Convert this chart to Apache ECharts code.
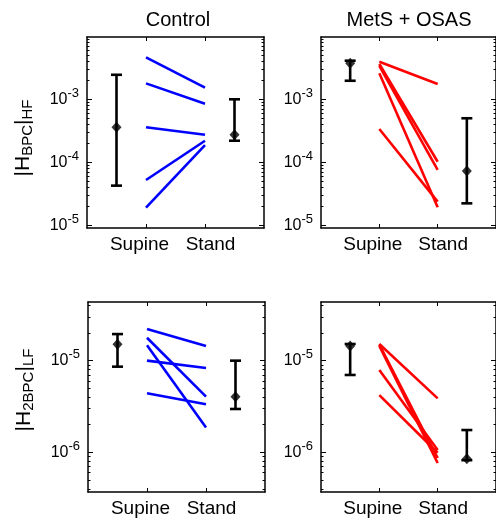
<!DOCTYPE html>
<html><head><meta charset="utf-8">
<script src="https://cdn.jsdelivr.net/npm/echarts@6/dist/echarts.min.js"></script>
<style>html,body{margin:0;padding:0;background:#fff}#c{width:496px;height:523px}</style>
</head><body><div id="c"></div>
<script>
// ---------- data ----------
const panelTitles = ['Control', 'MetS + OSAS'];
const xCategories = ['Supine', 'Stand'];
const xCategoryPos = [1, 2];
const summaryPos = [0.5, 2.5];
const yTicksHF = [1e-5, 1e-4, 1e-3];
const yTicksLF = [1e-6, 1e-5];

// Control, |H_BPC|_HF
const ctrlHF_supine = [4.64e-3, 1.79e-3, 3.6e-4, 5.24e-5, 1.91e-5];
const ctrlHF_stand  = [1.53e-3, 8.5e-4, 2.74e-4, 2.2e-4, 1.88e-4];
const ctrlHF_mean = [3.6e-4, 2.74e-4];
const ctrlHF_low  = [4.26e-5, 2.2e-4];
const ctrlHF_high = [2.45e-3, 1.0e-3];

// MetS + OSAS, |H_BPC|_HF
const metsHF_supine = [3.95e-3, 3.63e-3, 3.38e-3, 2.59e-3, 3.38e-4];
const metsHF_stand  = [1.75e-3, 1.02e-4, 7.55e-5, 1.93e-5, 2.37e-5];
const metsHF_mean = [3.72e-3, 7.28e-5];
const metsHF_low  = [1.97e-3, 2.23e-5];
const metsHF_high = [4.1e-3, 5.0e-4];

// Control, |H_2BPC|_LF
const ctrlLF_supine = [2.21e-5, 1.78e-5, 1.47e-5, 1.0e-5, 4.4e-6];
const ctrlLF_stand  = [1.445e-5, 4.05e-6, 1.87e-6, 8.3e-6, 3.34e-6];
const ctrlLF_mean = [1.51e-5, 4.05e-6];
const ctrlLF_low  = [8.6e-6, 2.97e-6];
const ctrlLF_high = [1.95e-5, 1.0e-5];

// MetS + OSAS, |H_2BPC|_LF
const metsLF_supine = [1.52e-5, 1.5e-5, 1.45e-5, 7.9e-6, 4.2e-6];
const metsLF_stand  = [3.88e-6, 8.67e-7, 7.64e-7, 1.06e-6, 9.9e-7];
const metsLF_mean = [1.445e-5, 8.5e-7];
const metsLF_low  = [6.98e-6, 8.2e-7];
const metsLF_high = [1.52e-5, 1.75e-6];

// ---------- layout ----------
const FONT = 'Liberation Sans';
const grids = [
  {left: 87, top: 37, width: 177, height: 191},
  {left: 321, top: 37, width: 176, height: 191},
  {left: 88, top: 302, width: 177, height: 190},
  {left: 321, top: 302, width: 176, height: 190}
];
const yExt = [
  [Math.pow(10, -5.043), Math.pow(10, -2.011)],
  [Math.pow(10, -5.043), Math.pow(10, -2.011)],
  [Math.pow(10, -6.433), Math.pow(10, -4.36)],
  [Math.pow(10, -6.433), Math.pow(10, -4.36)]
];
const panels = [
  {sup: ctrlHF_supine, st: ctrlHF_stand, mean: ctrlHF_mean, lo: ctrlHF_low, hi: ctrlHF_high, color: '#0000ff', ticks: yTicksHF},
  {sup: metsHF_supine, st: metsHF_stand, mean: metsHF_mean, lo: metsHF_low, hi: metsHF_high, color: '#ff0000', ticks: yTicksHF},
  {sup: ctrlLF_supine, st: ctrlLF_stand, mean: ctrlLF_mean, lo: ctrlLF_low, hi: ctrlLF_high, color: '#0000ff', ticks: yTicksLF},
  {sup: metsLF_supine, st: metsLF_stand, mean: metsLF_mean, lo: metsLF_low, hi: metsLF_high, color: '#ff0000', ticks: yTicksLF}
];
const yNames = [
  {text: '|H{sub|BPC}|{sub|HF}', padding: [0, 11, 0, 0]},
  null,
  {text: '|H{sub|2BPC}|{sub|LF}', padding: [0, 0, 0, 14]},
  null
];

function minorTicks(ext) {
  const out = [];
  const e0 = Math.floor(Math.log10(ext[0])), e1 = Math.ceil(Math.log10(ext[1]));
  for (let e = e0; e <= e1; e++) {
    for (let k = 2; k <= 9; k++) {
      const v = k * Math.pow(10, e);
      if (v >= ext[0] && v <= ext[1]) out.push(v);
    }
  }
  return out;
}

const lineStyleAxis = {color: '#000', width: 1.5};
const xAxes = [], yAxes = [], series = [];
grids.forEach((g, i) => {
  const p = panels[i];
  const xBase = xAxes.length;
  xAxes.push({
    type: 'value', gridIndex: i, min: 0, max: 3, position: 'bottom',
    axisLine: {show: true, onZero: false, lineStyle: lineStyleAxis},
    axisTick: {show: true, inside: true, length: 4, customValues: xCategoryPos, lineStyle: {color: '#000', width: 1}},
    axisLabel: {show: true, customValues: xCategoryPos, margin: 7,
      formatter: v => {
        const k = xCategoryPos.indexOf(v);
        return k < 0 ? '' : '{c' + k + '|' + xCategories[k] + '}';
      },
      color: '#000', fontFamily: FONT, fontSize: 19,
      rich: {
        c0: {fontFamily: FONT, fontSize: 19, color: '#000', padding: [0, 13, 0, 0]},
        c1: {fontFamily: FONT, fontSize: 19, color: '#000', padding: [0, 0, 0, 11]}
      }},
    splitLine: {show: false}
  });
  xAxes.push({
    type: 'value', gridIndex: i, min: 0, max: 3, position: 'top',
    axisLine: {show: true, onZero: false, lineStyle: lineStyleAxis},
    axisTick: {show: true, inside: true, length: 4, customValues: xCategoryPos, lineStyle: {color: '#000', width: 1}},
    axisLabel: {show: false}, splitLine: {show: false}
  });
  const yBase = yAxes.length;
  const nm = yNames[i];
  yAxes.push({
    type: 'log', logBase: 10, gridIndex: i, min: yExt[i][0], max: yExt[i][1], position: 'left',
    axisLine: {show: true, onZero: false, lineStyle: lineStyleAxis},
    axisTick: {show: true, inside: true, length: 5, customValues: p.ticks, lineStyle: {color: '#000', width: 1}},
    axisLabel: {show: true, customValues: p.ticks, margin: 8,
      formatter: v => '10{sup|' + Math.round(Math.log10(v)) + '}',
      color: '#000', fontFamily: FONT, fontSize: 16,
      rich: {sup: {fontSize: 13, fontFamily: FONT, color: '#000', padding: [0, 0, 12, 0]}}},
    splitLine: {show: false},
    name: nm ? nm.text : '', nameLocation: 'middle', nameGap: 52, nameRotate: 90,
    nameTextStyle: nm ? {color: '#000', fontFamily: FONT, fontSize: 21, padding: nm.padding,
      rich: {sub: {fontSize: 15, fontFamily: FONT, color: '#000', padding: [9, 0, 0, 0]}}} : {}
  });
  yAxes.push({
    type: 'log', logBase: 10, gridIndex: i, min: yExt[i][0], max: yExt[i][1], position: 'left',
    axisLine: {show: false, onZero: false},
    axisTick: {show: true, inside: true, length: 2.5, customValues: minorTicks(yExt[i]), lineStyle: {color: '#000', width: 1}},
    axisLabel: {show: false}, splitLine: {show: false}
  });
  yAxes.push({
    type: 'log', logBase: 10, gridIndex: i, min: yExt[i][0], max: yExt[i][1], position: 'right',
    axisLine: {show: true, onZero: false, lineStyle: lineStyleAxis},
    axisTick: {show: true, inside: true, length: 5, customValues: p.ticks, lineStyle: {color: '#000', width: 1}},
    axisLabel: {show: false}, splitLine: {show: false}
  });
  yAxes.push({
    type: 'log', logBase: 10, gridIndex: i, min: yExt[i][0], max: yExt[i][1], position: 'right',
    axisLine: {show: false, onZero: false},
    axisTick: {show: true, inside: true, length: 2.5, customValues: minorTicks(yExt[i]), lineStyle: {color: '#000', width: 1}},
    axisLabel: {show: false}, splitLine: {show: false}
  });

  // subject lines
  p.sup.forEach((s, j) => {
    series.push({
      type: 'line', xAxisIndex: xBase, yAxisIndex: yBase, symbol: 'none', silent: true,
      data: [[xCategoryPos[0], s], [xCategoryPos[1], p.st[j]]],
      lineStyle: {color: p.color, width: 2.6, cap: 'butt'}, z: 3
    });
  });
  // error bars
  series.push({
    type: 'custom', xAxisIndex: xBase, yAxisIndex: yBase, silent: true, z: 4,
    data: summaryPos.map((x, j) => [x, p.lo[j], p.hi[j]]),
    encode: {x: 0, y: [1, 2]},
    renderItem: function (params, api) {
      const x = api.value(0);
      const a = api.coord([x, api.value(1)]);
      const b = api.coord([x, api.value(2)]);
      const hw = 5.5;
      const st = {stroke: '#000', lineWidth: 2.6};
      return {type: 'group', children: [
        {type: 'line', shape: {x1: a[0], y1: a[1], x2: b[0], y2: b[1]}, style: st},
        {type: 'line', shape: {x1: a[0] - hw, y1: a[1], x2: a[0] + hw, y2: a[1]}, style: st},
        {type: 'line', shape: {x1: b[0] - hw, y1: b[1], x2: b[0] + hw, y2: b[1]}, style: st}
      ]};
    }
  });
  // means
  series.push({
    type: 'scatter', xAxisIndex: xBase, yAxisIndex: yBase, silent: true, z: 5,
    symbol: 'diamond', symbolSize: [10, 11],
    itemStyle: {color: '#000'},
    data: summaryPos.map((x, j) => [x, p.mean[j]])
  });
});

const chart = echarts.init(document.getElementById('c'), null, {renderer: 'canvas'});
chart.setOption({
  animation: false,
  backgroundColor: '#fff',
  title: [
    {text: panelTitles[0], left: 178, top: 10, textAlign: 'center', padding: 0,
      textStyle: {color: '#000', fontFamily: FONT, fontSize: 20, fontWeight: 'normal'}},
    {text: panelTitles[1], left: 409, top: 10, textAlign: 'center', padding: 0,
      textStyle: {color: '#000', fontFamily: FONT, fontSize: 20, fontWeight: 'normal'}}
  ],
  grid: grids.map(g => Object.assign({containLabel: false, show: false}, g)),
  xAxis: xAxes,
  yAxis: yAxes,
  series: series
});
</script>
</body></html>
